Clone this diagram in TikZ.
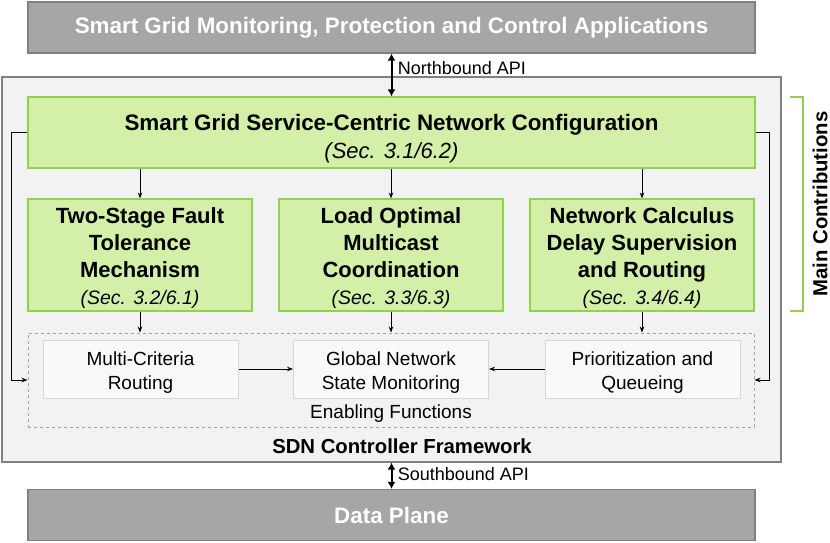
\documentclass[tikz,border=0pt]{standalone}
\usepackage{fontspec}
\setmainfont{Liberation Sans}
\usetikzlibrary{arrows.meta, positioning}

\definecolor{planefill}{RGB}{166,166,166}
\definecolor{planeline}{RGB}{128,128,128}
\definecolor{ctrlfill}{RGB}{242,242,242}
\definecolor{contribfill}{RGB}{212,240,168}
\definecolor{contribline}{RGB}{146,208,80}
\definecolor{funcfill}{RGB}{249,249,249}
\definecolor{funcline}{RGB}{214,214,214}

\begin{document}
\begin{tikzpicture}[x=1pt, y=-1pt,
  plane/.style={draw=planeline, fill=planefill, line width=1.2pt, text=white,
    font=\fontsize{22.4}{26}\selectfont\bfseries, minimum width=727pt,
    minimum height=51pt, inner sep=0pt},
  contrib/.style={draw=contribline, fill=contribfill, line width=1.2pt,
    align=center, inner sep=0pt, font=\fontsize{22}{27}\selectfont},
  func/.style={draw=funcline, fill=funcfill, line width=1pt, align=center,
    minimum width=195pt, minimum height=58pt, inner sep=0pt,
    font=\fontsize{19}{24}\selectfont},
  link/.style={-{Stealth[length=6pt,width=4.5pt]}, line width=0.7pt},
  api/.style={{Latex[length=7pt,width=8pt]}-{Latex[length=7pt,width=8pt]}, line width=2pt}]
  \useasboundingbox (0,0) rectangle (830,543);

  % SDN controller frame
  \node[draw=planeline, fill=ctrlfill, line width=1.2pt, minimum width=779pt,
    minimum height=385pt, inner sep=0pt] (ctrl) at (391.5,269.5) {};
  \node[font=\fontsize{20.3}{24}\selectfont\bfseries] (ctrllabel) at (402,446) {SDN Controller Framework};

  % application and data planes
  \node[plane] (apps) at (391.5,27.5) {Smart Grid Monitoring, Protection and Control Applications};
  \node[plane] (data) at (391.5,515) {Data Plane};

  % contributions
  \node[contrib, minimum width=727pt, minimum height=71pt] (config) at (391.5,132.5)
    {\rule{0pt}{28pt}\textbf{\fontsize{22.4}{28}\selectfont Smart Grid Service-Centric Network Configuration}\\[1pt]\textit{(Sec. 3.1/6.2)}};
  \node[contrib, minimum width=224pt, minimum height=112pt] (fault) at (140,255)
    {\rule{0pt}{22pt}\textbf{Two-Stage Fault}\\\textbf{Tolerance}\\\textbf{Mechanism}\\{\fontsize{19.5}{27}\selectfont\itshape (Sec. 3.2/6.1)}};
  \node[contrib, minimum width=224pt, minimum height=112pt] (multicast) at (391,255)
    {\rule{0pt}{22pt}\textbf{Load Optimal}\\\textbf{Multicast}\\\textbf{Coordination}\\{\fontsize{19.5}{27}\selectfont\itshape (Sec. 3.3/6.3)}};
  \node[contrib, minimum width=224pt, minimum height=112pt] (calculus) at (642,255)
    {\rule{0pt}{22pt}\textbf{Network Calculus}\\\textbf{Delay Supervision}\\\textbf{and Routing}\\{\fontsize{19.5}{27}\selectfont\itshape (Sec. 3.4/6.4)}};

  % enabling functions
  \node[draw=planefill, dashed, line width=1pt, minimum width=726pt,
    minimum height=94pt, inner sep=0pt] (enabling) at (391,380) {};
  \node[func] (routing) at (140.5,369) {\rule{0pt}{20pt}Multi-Criteria\\Routing};
  \node[func] (monitor) at (391,369) {\rule{0pt}{20pt}Global Network\\State Monitoring};
  \node[func] (queue) at (642.5,369) {\rule{0pt}{20pt}Prioritization and\\Queueing};
  \node[font=\fontsize{19}{22}\selectfont] (enablinglabel) at (391,414) {Enabling Functions};

  % connectors
  \foreach \n in {fault, multicast, calculus} {
    \draw[link] (config.south -| \n.north) -- (\n.north);
    \draw[link] (\n.south) -- (\n.south |- enabling.north);
  }
  \draw[link] (routing) -- (monitor);
  \draw[link] (queue) -- (monitor);
  \draw[link] (config.west) -- ++(-16,0) |- (enabling.west);
  \draw[link] (config.east) -- ++(14,0) |- (enabling.east);

  % APIs
  \draw[api] (apps.south -| config.north) -- node[pos=0.33, right, xshift=2pt, font=\fontsize{18}{22}\selectfont] {Northbound API} (config.north);
  \draw[api] (ctrl.south -| data.north) -- node[pos=0.45, right, xshift=2pt, font=\fontsize{18}{22}\selectfont] {Southbound API} (data.north);

  % main contributions bracket
  \draw[contribline, line width=1.5pt] (790,97) -- (803,97) -- (803,311) -- (790,311);
  \node[rotate=90, inner sep=0pt, font=\fontsize{20.3}{24}\selectfont\bfseries] (mainlabel) at (820,204) {Main Contributions};
\end{tikzpicture}
\end{document}
